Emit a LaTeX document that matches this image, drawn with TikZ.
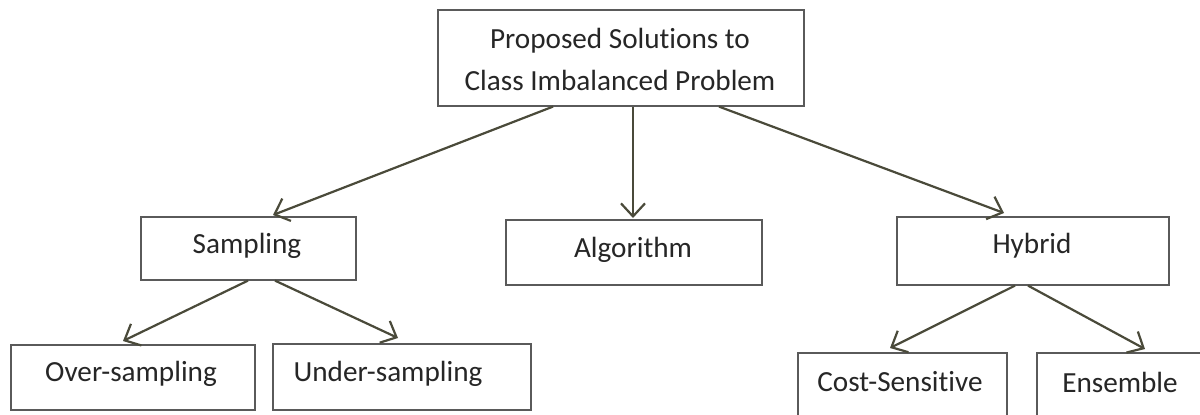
\documentclass[tikz,border=0pt]{standalone}
\usepackage{fontspec}
\setmainfont{Carlito}[Ligatures={NoCommon}]
\usetikzlibrary{arrows.meta,calc}
\definecolor{arr}{HTML}{4A4A3A}
\definecolor{bord}{HTML}{5A5A5A}
\definecolor{txt}{HTML}{262626}
\begin{document}
\begin{tikzpicture}[x=0.5pt,y=-0.5pt,
  box/.style={draw=bord,line width=0.8pt,inner sep=0pt,anchor=north west},
  lbl/.style={text=txt,font=\fontsize{14.6}{19}\selectfont,inner sep=0pt},
  conn/.style={draw=arr,line width=1.1pt,-{Straight Barb[length=6.5pt,width=12pt,line width=1.1pt]}}]
\useasboundingbox (0,0) rectangle (1200,414);
\clip (0,0) rectangle (1200,414);
\fill[white] (0,0) rectangle (1200,414);
% boxes
\node[box,minimum width=183pt,minimum height=48pt] (top) at (437,9) {};
\node[box,minimum width=107.5pt,minimum height=31.5pt] (sam) at (140,216) {};
\node[box,minimum width=128pt,minimum height=32.5pt] (alg) at (505,219) {};
\node[box,minimum width=136pt,minimum height=34pt] (hyb) at (896,216) {};
\node[box,minimum width=122pt,minimum height=32.5pt] (ovr) at (10,344) {};
\node[box,minimum width=129pt,minimum height=33pt] (und) at (272,343) {};
\node[box,minimum width=104.5pt,minimum height=40pt] (cst) at (797,352) {};
\node[box,minimum width=100pt,minimum height=40pt] (ens) at (1036,352) {};
% labels
\node[lbl] (t1) at (620,41) {Proposed Solutions to};
\node[lbl] (t2) at (620,80) {Class Imbalanced Problem};
\node[lbl] (ls) at (247,246) {Sampling};
\node[lbl] (la) at (633,250) {Algorithm};
\node[lbl] (lh) at (1032,246) {Hybrid};
\node[lbl] (lo) at (131,374) {Over-sampling};
\node[lbl] (lu) at (388,374) {Under-sampling};
\node[lbl] (lc) at (900,382) {Cost-Sensitive};
\node[lbl] (le) at (1120,382) {Ensemble};
% arrow tips as coordinates
\coordinate (tipS) at (273,215);
\coordinate (tipA) at (633,218);
\coordinate (tipH) at (1004,213);
\coordinate (tipO) at (123,341);
\coordinate (tipU) at (398,338);
\coordinate (tipC) at (890,348);
\coordinate (tipE) at (1145,349);
% connectors
\draw[conn] ($(top.south west)+(116,0)$) -- (tipS);
\draw[conn] ($(top.south west)+(196,0)$) -- (tipA);
\draw[conn] ($(top.south west)+(282,0)$) -- (tipH);
\draw[conn] ($(sam.south west)+(108,0)$) -- (tipO);
\draw[conn] ($(sam.south west)+(135,0)$) -- (tipU);
\draw[conn] ($(hyb.south west)+(119,0)$) -- (tipC);
\draw[conn] ($(hyb.south west)+(132,0)$) -- (tipE);
\end{tikzpicture}
\end{document}
